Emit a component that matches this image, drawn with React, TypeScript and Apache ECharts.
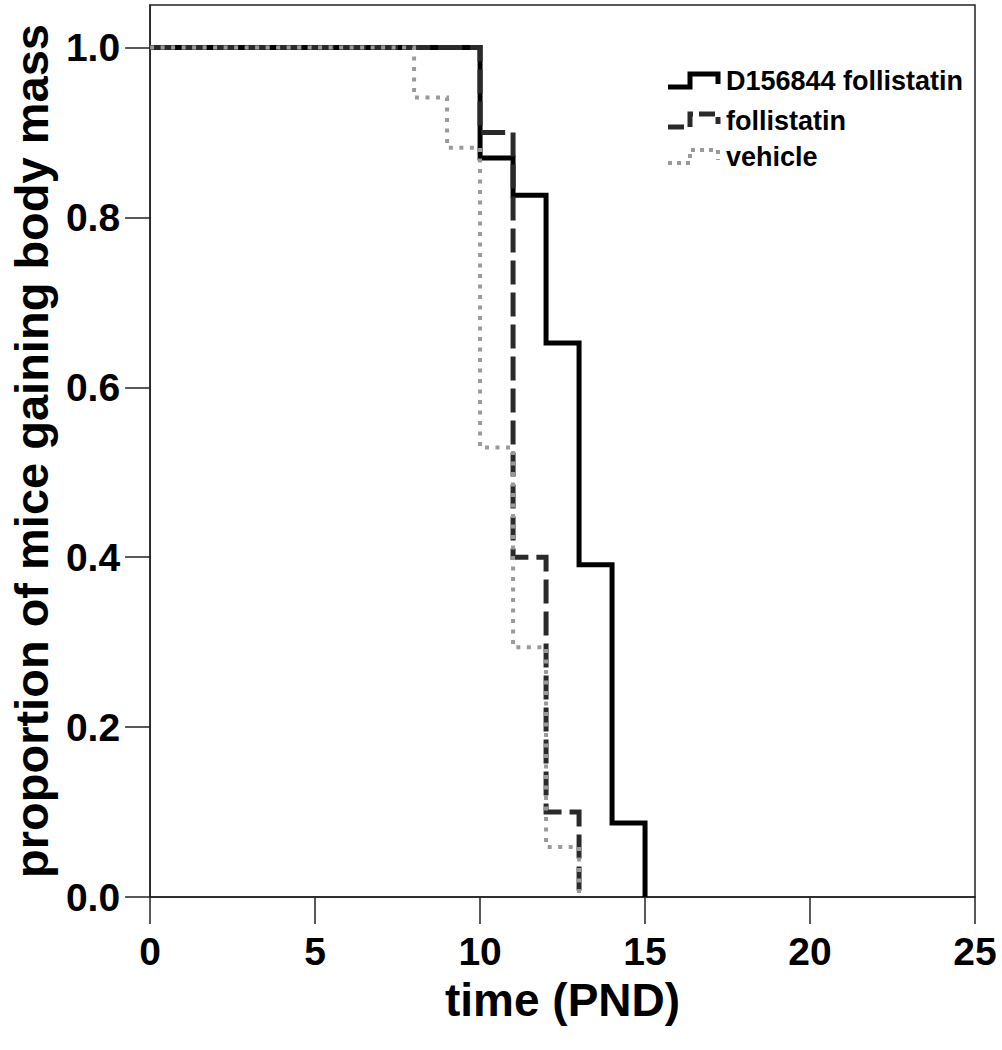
import React, { useEffect, useRef } from "react";
import * as echarts from "echarts";

const seriesNames = ["D156844 follistatin", "follistatin", "vehicle"];
const timesTreated = [0, 10, 11, 12, 13, 14, 15];
const valuesTreated = [1.0, 0.87, 0.826, 0.652, 0.391, 0.087, 0.0];
const timesFollistatin = [0, 10, 11, 12, 13];
const valuesFollistatin = [1.0, 0.9, 0.4, 0.1, 0.0];
const timesVehicle = [0, 8, 9, 10, 11, 12, 13];
const valuesVehicle = [1.0, 0.941, 0.882, 0.529, 0.294, 0.059, 0.0];
const yTicks = [0, 0.2, 0.4, 0.6, 0.8, 1.0];
const xTicks = [0, 5, 10, 15, 20, 25];

const FONT = "'Liberation Sans', Arial, Helvetica, sans-serif";

const styles = [
  { color: "#000000", width: 5, dash: "solid" as any },
  { color: "#2a2a2a", width: 5, dash: [24, 8] as any },
  { color: "#9a9a9a", width: 4, dash: [4, 6.5] as any },
];

function pairs(t: number[], v: number[]) {
  return t.map((x, i) => [x, v[i]]);
}

export default function App() {
  const ref = useRef<HTMLDivElement>(null);
  useEffect(() => {
    document.body.style.margin = "0";
    const chart = echarts.init(ref.current!, null, { renderer: "svg" });
    const datasets = [
      pairs(timesTreated, valuesTreated),
      pairs(timesFollistatin, valuesFollistatin),
      pairs(timesVehicle, valuesVehicle),
    ];
    const legendRows = [81, 121, 157];
    const graphic: any[] = [];
    legendRows.forEach((cy, i) => {
      graphic.push({
        type: "polyline",
        shape: {
          points: [
            [668, cy + 6],
            [690, cy + 6],
            [690, cy - 7],
            [718, cy - 7],
            [718, cy + 3],
          ],
        },
        style: {
          stroke: styles[i].color,
          lineWidth: styles[i].width,
          lineDash: i === 0 ? null : i === 1 ? [16, 6] : [4, 5],
          fill: null,
        },
        z: 10,
      });
      graphic.push({
        type: "text",
        x: 726,
        y: cy,
        style: {
          text: seriesNames[i],
          fill: "#000",
          font: `bold 27px ${FONT}`,
          verticalAlign: "middle",
          align: "left",
        },
        z: 10,
      });
    });

    chart.setOption({
      animation: false,
      backgroundColor: "#fff",
      grid: {
        left: 150,
        right: 27,
        top: 5,
        bottom: 153,
        show: true,
        borderColor: "#222",
        borderWidth: 1.5,
        backgroundColor: "transparent",
      },
      xAxis: {
        type: "value",
        min: 0,
        max: 25,
        interval: 5,
        name: "time (PND)",
        nameLocation: "middle",
        nameGap: 80,
        nameTextStyle: { fontFamily: FONT, fontWeight: "bold", fontSize: 46, color: "#000", verticalAlign: "top" },
        axisLine: { show: true, lineStyle: { color: "#222", width: 1.5 } },
        axisTick: { show: true, inside: false, length: 27, lineStyle: { color: "#222", width: 1.5 }, customValues: xTicks },
        axisLabel: { fontFamily: FONT, fontWeight: "bold", fontSize: 39, color: "#000", margin: 35, customValues: xTicks },
        splitLine: { show: false },
      },
      yAxis: {
        type: "value",
        min: 0,
        max: 1.05,
        name: "proportion of mice gaining body mass",
        nameLocation: "middle",
        nameGap: 92,
        nameTextStyle: { fontFamily: FONT, fontWeight: "bold", fontSize: 47, color: "#000" },
        axisLine: { show: true, lineStyle: { color: "#222", width: 1.5 } },
        axisTick: { show: true, inside: false, length: 25, lineStyle: { color: "#222", width: 1.5 }, customValues: yTicks },
        axisLabel: {
          fontFamily: FONT,
          fontWeight: "bold",
          fontSize: 39,
          color: "#000",
          margin: 30,
          customValues: yTicks,
          formatter: (v: number) => v.toFixed(1),
        },
        splitLine: { show: false },
      },
      series: datasets.map((d, i) => ({
        type: "line",
        name: seriesNames[i],
        step: "end",
        data: d,
        symbol: "none",
        lineStyle: { color: styles[i].color, width: styles[i].width, type: styles[i].dash, cap: "butt", join: "miter" },
        z: 2 + i,
      })),
      graphic,
    });
    return () => chart.dispose();
  }, []);
  return <div ref={ref} style={{ position: "absolute", left: 0, top: 0, width: 1002, height: 1050 }} />;
}
